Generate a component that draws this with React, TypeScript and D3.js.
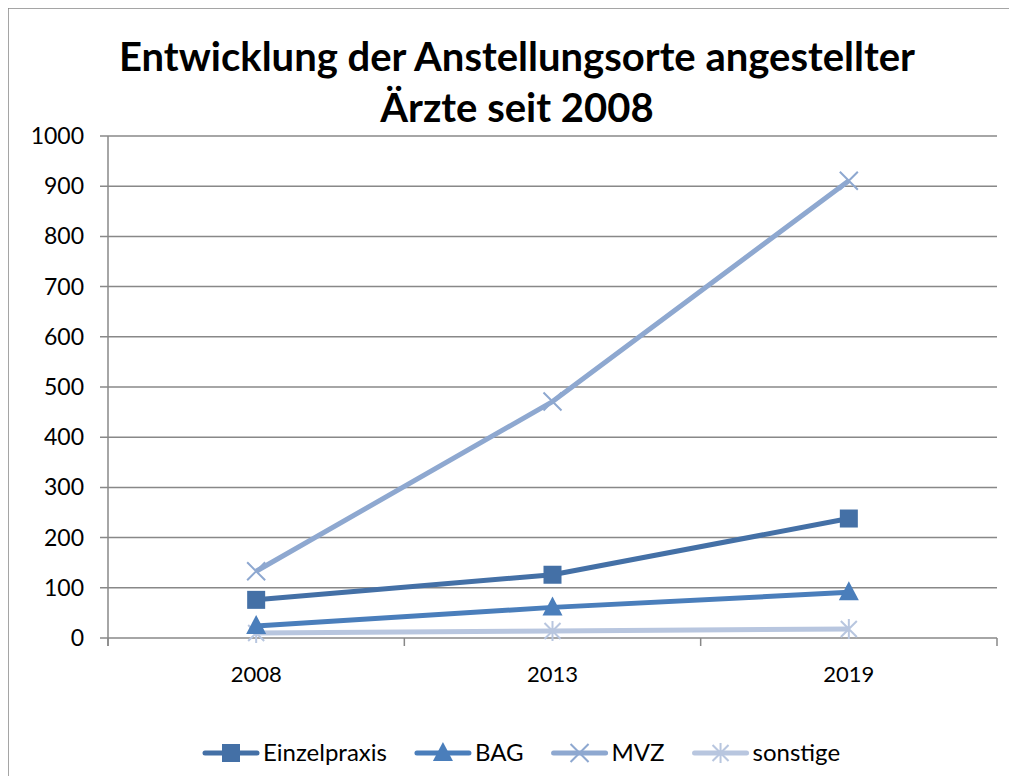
import React, { useEffect, useRef } from 'react';
import * as d3 from 'd3';

const years = ['2008', '2013', '2019'];
const einzelpraxis = [76, 126, 238];
const bag = [24, 61, 91];
const mvz = [133, 471, 911];
const sonstige = [10, 14, 18];
const yTicks = [0, 100, 200, 300, 400, 500, 600, 700, 800, 900, 1000];

const series = [
  { name: 'Einzelpraxis', values: einzelpraxis, color: '#4470a6', marker: 'square' },
  { name: 'BAG', values: bag, color: '#4a7ebb', marker: 'triangle' },
  { name: 'MVZ', values: mvz, color: '#8ea8d0', marker: 'x' },
  { name: 'sonstige', values: sonstige, color: '#b8c6df', marker: 'star' },
];

const FONT = 'Lato, "Open Sans", sans-serif';

function drawMarker(g, type, x, y, color) {
  if (type === 'square') {
    g.append('rect').attr('x', x - 9).attr('y', y - 9).attr('width', 18).attr('height', 18).attr('fill', color);
  } else if (type === 'triangle') {
    g.append('path').attr('d', `M${x},${y - 11}L${x + 10},${y + 8}L${x - 10},${y + 8}Z`).attr('fill', color);
  } else if (type === 'x') {
    g.append('path').attr('d', `M${x - 9},${y - 9}L${x + 9},${y + 9}M${x - 9},${y + 9}L${x + 9},${y - 9}`)
      .attr('stroke', color).attr('stroke-width', 2);
  } else {
    g.append('path').attr('d', `M${x - 8},${y - 8}L${x + 8},${y + 8}M${x - 8},${y + 8}L${x + 8},${y - 8}M${x},${y - 10}L${x},${y + 10}`)
      .attr('stroke', color).attr('stroke-width', 2);
  }
}

export default function App() {
  const ref = useRef(null);

  useEffect(() => {
    const w = 1017, h = 784;
    const m = { top: 136, right: 20, bottom: 146, left: 108 };
    const svg = d3.select(ref.current);
    svg.selectAll('*').remove();

    // frame
    svg.append('path').attr('d', `M8,${h}V8H1010V${h}`).attr('fill', 'none').attr('stroke', '#888').attr('stroke-width', 1.5);

    // title
    const title = svg.append('text').attr('text-anchor', 'middle').attr('font-family', FONT)
      .attr('font-weight', 'bold').attr('font-size', 40).attr('fill', '#000');
    title.append('tspan').attr('x', 517).attr('y', 71).text('Entwicklung der Anstellungsorte angestellter');
    title.append('tspan').attr('x', 517).attr('y', 122).text('Ärzte seit 2008');

    const x = d3.scaleBand().domain(years).range([m.left, 997]);
    const y = d3.scaleLinear().domain([0, 1000]).range([638, m.top]);

    // gridlines
    svg.append('g').selectAll('line').data(yTicks).enter().append('line')
      .attr('x1', 100).attr('x2', 997)
      .attr('y1', d => y(d)).attr('y2', d => y(d))
      .attr('stroke', '#888').attr('stroke-width', 1.5);

    // y axis
    svg.append('line').attr('x1', m.left).attr('x2', m.left).attr('y1', y(1000)).attr('y2', y(0) + 8)
      .attr('stroke', '#888').attr('stroke-width', 1.5);
    svg.append('g').selectAll('text').data(yTicks).enter().append('text')
      .attr('x', 84).attr('y', d => y(d)).attr('dy', '0.35em').attr('text-anchor', 'end')
      .attr('font-family', FONT).attr('font-size', 23).attr('fill', '#000').text(d => d);

    // x ticks between bands
    const bounds = [m.left, ...years.map(d => x(d) + x.bandwidth())];
    svg.append('g').selectAll('line').data(bounds).enter().append('line')
      .attr('x1', d => d).attr('x2', d => d).attr('y1', y(0)).attr('y2', y(0) + 8)
      .attr('stroke', '#888').attr('stroke-width', 1.5);
    svg.append('g').selectAll('text').data(years).enter().append('text')
      .attr('x', d => x(d) + x.bandwidth() / 2).attr('y', 682).attr('text-anchor', 'middle')
      .attr('font-family', FONT).attr('font-size', 22).attr('fill', '#000').text(d => d);

    const cx = i => x(years[i]) + x.bandwidth() / 2;
    const line = d3.line().x((d, i) => cx(i)).y(d => y(d));

    // draw in reverse so Einzelpraxis on top
    [...series].reverse().forEach(s => {
      svg.append('path').datum(s.values).attr('d', line).attr('fill', 'none')
        .attr('stroke', s.color).attr('stroke-width', 5).attr('stroke-linejoin', 'round');
      const g = svg.append('g');
      s.values.forEach((v, i) => drawMarker(g, s.marker, cx(i), y(v), s.color));
    });

    // legend, laid out left to right
    let lx = 205;
    const ly = 753;
    series.forEach(s => {
      svg.append('line').attr('x1', lx).attr('x2', lx + 52).attr('y1', ly).attr('y2', ly)
        .attr('stroke', s.color).attr('stroke-width', 5).attr('stroke-linecap', 'round');
      drawMarker(svg.append('g'), s.marker, lx + 26, ly, s.color);
      const t = svg.append('text').attr('x', lx + 58).attr('y', ly).attr('dy', '0.35em')
        .attr('font-family', FONT).attr('font-size', 24).attr('fill', '#000').text(s.name);
      lx += 58 + t.node().getComputedTextLength() + 30;
    });
  }, []);

  return <svg ref={ref} width={1017} height={784} style={{ display: 'block', margin: -8 }} />;
}
